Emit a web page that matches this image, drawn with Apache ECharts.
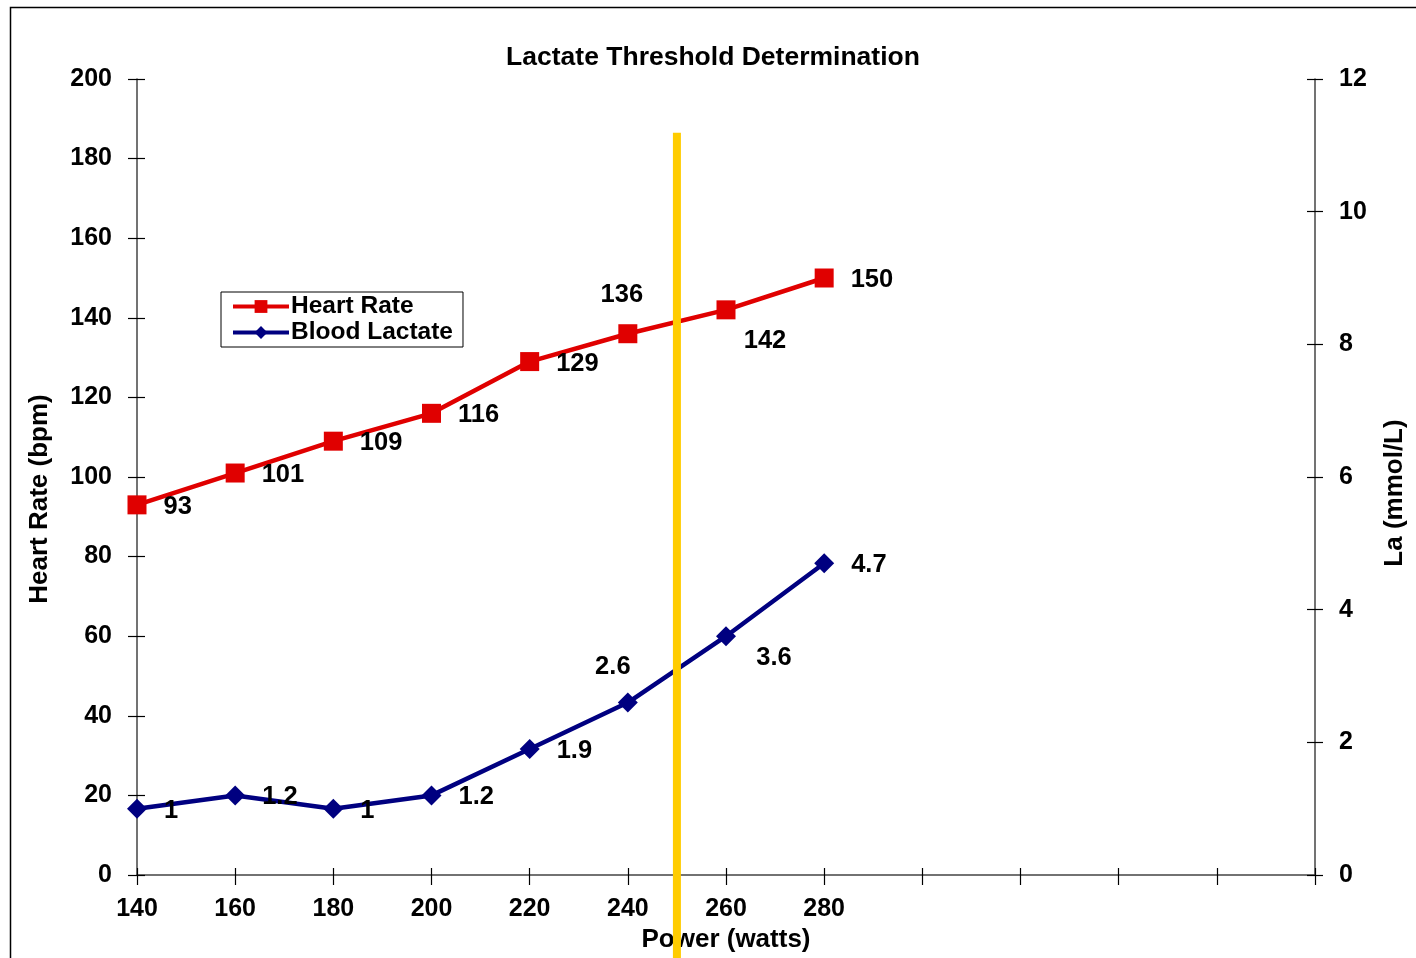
<!DOCTYPE html>
<html>
<head>
<meta charset="utf-8">
<title>Lactate Threshold Determination</title>
<script src="https://cdn.jsdelivr.net/npm/echarts@6/dist/echarts.min.js"></script>
<style>
  html, body { margin: 0; padding: 0; background: #fff; }
  #chart { width: 1416px; height: 958px; }
</style>
</head>
<body>
<div id="chart"></div>
<script>
// Step-test results: power stages (watts), heart rate (bpm), blood lactate (mmol/L)
const powerStages = [140, 160, 180, 200, 220, 240, 260, 280];
const heartRate = [93, 101, 109, 116, 129, 136, 142, 150];
const bloodLactate = [1, 1.2, 1, 1.2, 1.9, 2.6, 3.6, 4.7];

// Labelled ticks on the power axis (the axis runs on to 380 W unlabelled)
const powerTickLabels = [140, 160, 180, 200, 220, 240, 260, 280];
const hrTicks = [0, 20, 40, 60, 80, 100, 120, 140, 160, 180, 200];
const laTicks = [0, 2, 4, 6, 8, 10, 12];

// Threshold marker: power (W), upper and lower ends on the heart-rate scale
const thresholdPower = 250;
const thresholdSpan = [186.5, -21];

const FONT = "'Liberation Sans', Arial, sans-serif";
const RED = '#E00000';
const NAVY = '#000080';

const chart = echarts.init(document.getElementById('chart'), null, { renderer: 'canvas' });

const axisLineStyle = { color: '#444', width: 1.5 };
const tickLabel = { fontFamily: FONT, fontWeight: 'bold', fontSize: 25, color: '#000' };
const nameStyle = { fontFamily: FONT, fontWeight: 'bold', fontSize: 26, color: '#000' };

const labelBase = {
  show: true,
  position: 'right',
  distance: 17,
  offset: [0, 2],
  fontFamily: FONT,
  fontWeight: 'bold',
  fontSize: 25.5,
  color: '#000'
};

// Points whose labels sit away from the default right-hand spot
const hrLabelShift = { 5: [-6, -39], 6: [39, 31] };
const laLabelShift = { 5: [-15, -36], 6: [48, 22] };

function pointData(values, shifts) {
  return values.map((v, i) => {
    const item = { value: [powerStages[i], v] };
    if (shifts[i]) {
      item.label = { position: 'inside', offset: shifts[i] };
    }
    return item;
  });
}

const option = {
  animation: false,
  backgroundColor: '#fff',
  title: {
    text: 'Lactate Threshold Determination',
    left: 708,
    textAlign: 'center',
    top: 39,
    textStyle: { fontFamily: FONT, fontWeight: 'bold', fontSize: 26.5, color: '#000' }
  },
  graphic: [{
    type: 'rect',
    shape: { x: 10.5, y: 7.5, width: 1430, height: 980 },
    style: { fill: 'none', stroke: '#000', lineWidth: 1.5 },
    silent: true,
    z: -1
  }],
  legend: {
    orient: 'vertical',
    left: 221,
    top: 292,
    padding: [2, 10, 2, 10],
    itemGap: 1,
    itemWidth: 56,
    itemHeight: 16,
    borderColor: '#000',
    borderWidth: 1,
    backgroundColor: '#fff',
    lineStyle: { width: 4 },
    textStyle: { fontFamily: FONT, fontWeight: 'bold', fontSize: 24.5, color: '#000', padding: [0, 0, 0, -3] },
    data: ['Heart Rate', 'Blood Lactate']
  },
  grid: { left: 137, right: 101, top: 79, bottom: 83 },
  xAxis: [{
    type: 'value',
    min: 140,
    max: 380,
    interval: 20,
    name: 'Power (watts)',
    nameLocation: 'middle',
    nameGap: 52,
    nameTextStyle: nameStyle,
    axisLine: { show: true, onZero: false, lineStyle: axisLineStyle },
    axisTick: { show: true, length: 10, lineStyle: { color: '#000', width: 1.2 } },
    splitLine: { show: false },
    axisLabel: {
      ...tickLabel,
      margin: 22,
      formatter: v => (powerTickLabels.includes(v) ? String(v) : '')
    }
  }, {
    // inner half of the crossing ticks
    type: 'value', min: 140, max: 380, interval: 20, position: 'bottom',
    axisLine: { show: false },
    axisTick: { show: true, inside: true, length: 7, lineStyle: { color: '#000', width: 1.2 } },
    axisLabel: { show: false },
    splitLine: { show: false }
  }],
  yAxis: [{
    type: 'value',
    min: hrTicks[0],
    max: hrTicks[hrTicks.length - 1],
    interval: 20,
    position: 'left',
    name: 'Heart Rate (bpm)',
    nameLocation: 'middle',
    nameGap: 84,
    nameTextStyle: { ...nameStyle, padding: [0, 44, 0, 0] },
    axisLine: { show: true, onZero: false, lineStyle: axisLineStyle },
    axisTick: { show: true, length: 9, lineStyle: { color: '#000', width: 1.2 } },
    splitLine: { show: false },
    axisLabel: { ...tickLabel, margin: 25 }
  }, {
    type: 'value',
    min: laTicks[0],
    max: laTicks[laTicks.length - 1],
    interval: 2,
    position: 'right',
    name: 'La (mmol/L)',
    nameLocation: 'middle',
    nameGap: 67,
    nameTextStyle: { ...nameStyle, padding: [0, 32, 0, 0] },
    axisLine: { show: true, onZero: false, lineStyle: axisLineStyle },
    axisTick: { show: true, length: 8, lineStyle: { color: '#000', width: 1.2 } },
    splitLine: { show: false },
    axisLabel: { ...tickLabel, margin: 24 }
  }, {
    type: 'value', min: hrTicks[0], max: hrTicks[hrTicks.length - 1], interval: 20, position: 'left',
    axisLine: { show: false },
    axisTick: { show: true, inside: true, length: 8, lineStyle: { color: '#000', width: 1.2 } },
    axisLabel: { show: false },
    splitLine: { show: false }
  }, {
    type: 'value', min: laTicks[0], max: laTicks[laTicks.length - 1], interval: 2, position: 'right',
    axisLine: { show: false },
    axisTick: { show: true, inside: true, length: 8, lineStyle: { color: '#000', width: 1.2 } },
    axisLabel: { show: false },
    splitLine: { show: false }
  }],
  series: [{
    name: 'Heart Rate',
    type: 'line',
    xAxisIndex: 0,
    yAxisIndex: 0,
    data: pointData(heartRate, hrLabelShift),
    symbol: 'rect',
    symbolSize: 19,
    lineStyle: { color: RED, width: 4.5 },
    itemStyle: { color: RED },
    label: labelBase,
    z: 3
  }, {
    name: 'Blood Lactate',
    type: 'line',
    xAxisIndex: 0,
    yAxisIndex: 1,
    data: pointData(bloodLactate, laLabelShift),
    symbol: 'diamond',
    symbolSize: 20,
    lineStyle: { color: NAVY, width: 4.5 },
    itemStyle: { color: NAVY },
    label: labelBase,
    z: 3
  }, {
    name: 'Threshold',
    type: 'custom',
    xAxisIndex: 0,
    yAxisIndex: 0,
    z: 10,
    silent: true,
    encode: { x: 0, y: [1, 2] },
    data: [[thresholdPower, thresholdSpan[0], thresholdSpan[1]]],
    renderItem: function (params, api) {
      const top = api.coord([api.value(0), api.value(1)]);
      const bottom = api.coord([api.value(0), api.value(2)]);
      return {
        type: 'line',
        shape: { x1: top[0], y1: top[1], x2: bottom[0], y2: bottom[1] },
        style: { stroke: '#FFCC00', lineWidth: 8 }
      };
    }
  }]
};

chart.setOption(option);
</script>
</body>
</html>
